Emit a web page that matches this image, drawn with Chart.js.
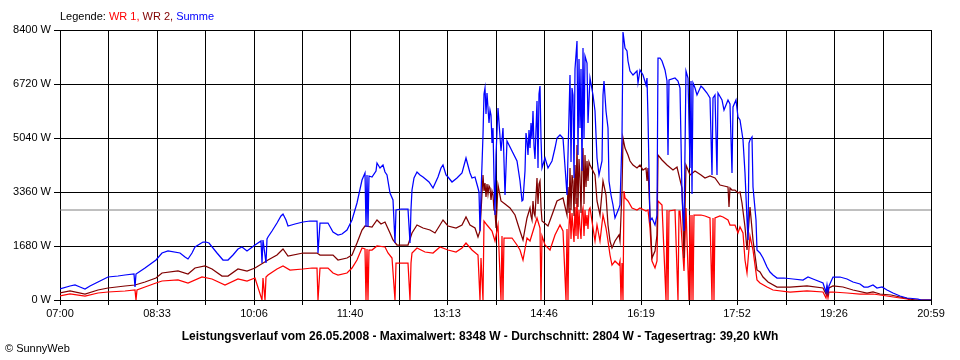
<!DOCTYPE html>
<html lang="de">
<head>
    <meta charset="UTF-8">
    <title>Leistungsverlauf 26.05.2008</title>
    <script src="https://cdn.jsdelivr.net/npm/chart.js"></script>
    <style>
        body { margin: 0; background: #fff; }
        canvas { display: block; }
    </style>
</head>
<body>
    <canvas id="chart" width="960" height="360"></canvas>

    <script>
        // Tick labels and axis steps
        const xTickLabels = ['07:00', '08:33', '10:06', '11:40', '13:13', '14:46', '16:19', '17:52', '19:26', '20:59'];
        const yTicks = [0, 1680, 3360, 5040, 6720, 8400];
        const averageW = 2804;
        const legendLabels = ['WR 1', 'WR 2', 'Summe'];
        const titleText = 'Leistungsverlauf vom 26.05.2008 - Maximalwert: 8348 W - Durchschnitt: 2804 W - Tagesertrag: 39,20 kWh';

        // Summe (blau): [Uhrzeit, Watt]
        const sumPoints = [
            ['07:00',340],['07:10',430],['07:14',467],['07:19',420],['07:24',333],['07:29',430],['07:37',570],['07:46',705],['07:56',747],['08:03',790],
            ['08:11',809],['08:12',415],['08:13',809],['08:22',985],['08:32',1244],['08:38',1472],['08:44',1514],['08:56',1472],['09:00',1350],['09:03',1275],
            ['09:07',1450],['09:10',1659],['09:18',1815],['09:21',1790],['09:24',1763],['09:31',1452],['09:37',1244],['09:42',1244],['09:47',1400],['09:51',1576],
            ['09:55',1638],['10:00',1514],['10:08',1711],['10:14',1850],['10:15',1161],['10:16',1870],['10:18',1161],['10:19',1900],['10:20',1970],['10:24',2150],
            ['10:29',2385],['10:33',2600],['10:35',2665],['10:38',2500],['10:40',2312],['10:46',2354],['10:54',2416],['11:01',2458],['11:08',2458],['11:09',1452],
            ['11:10',2406],['11:18',2406],['11:23',2125],['11:28',2022],['11:32',2050],['11:36',2178],['11:41',2489],['11:46',3008],['11:51',3733],['11:54',3941],
            ['11:55',2281],['11:56',3900],['11:57',2281],['11:58',3850],['12:01',3837],['12:04',4000],['12:05',4252],['12:08',4097],['12:11',4200],['12:13',3992],
            ['12:15',3889],['12:18',3319],['12:21',3111],['12:23',1763],['12:24',2800],['12:28',2831],['12:35',2831],['12:37',1763],['12:38',2831],['12:39',3422],
            ['12:41',3800],['12:44',3992],['12:47',3900],['12:50',3837],['12:55',3681],['12:59',3473],['13:04',3837],['13:07',4100],['13:09',4200],['13:12',3900],
            ['13:14',3837],['13:18',3681],['13:22',3785],['13:27',3941],['13:31',4408],['13:35',3941],['13:37',3795],['13:40',3837],['13:43',3484],['13:44',3370],
            ['13:45',2137],['13:46',3300],['13:47',5143],['13:48',6400],['13:49',6595],['13:50',5800],['13:51',6440],['13:52',5973],['13:53',5500],['13:54',5900],
            ['13:55',5765],['13:56',4900],['13:57',5351],['13:58',3795],['13:59',2654],
            ['14:00',4500],['14:02',5973],['14:05',4626],['14:07',5351],['14:09',3277],['14:11',4936],['14:15',4626],['14:20',4315],['14:23',3692],['14:25',3070],
            ['14:26',3100],['14:28',4000],['14:29',5200],['14:30',4936],['14:31',4500],['14:32',5300],['14:33',4729],['14:34',5500],['14:35',5000],['14:36',5870],
            ['14:37',4800],['14:38',4400],['14:39',6181],['14:40',4110],['14:41',6400],['14:42',6647],['14:43',5000],
            ['14:44',4107],['14:47',4418],['14:50',4107],['14:54',4315],['14:57',4729],['14:59',5040],['15:02',5143],['15:05',5040],['15:08',3277],['15:09',4500],
            ['15:11',7010],['15:12',4300],['15:13',6600],['15:14',6388],['15:15',3800],['15:16',7200],['15:18',8048],['15:19',4500],['15:20',7500],['15:21',5351],
            ['15:22',7200],['15:23',4000],['15:24',7840],['15:25',5000],['15:26',7600],['15:28',7373],['15:29',5500],['15:31',6907],['15:33',6388],['15:35',5870],
            ['15:37',4418],['15:39',3899],['15:42',4315],['15:43',6388],['15:44',6800],['15:46',5870],['15:48',5351],['15:49',3692],['15:51',3277],['15:53',2966],
            ['15:55',2551],['15:58',2862],['15:59',2966],['16:01',5040],['16:02',8348],['16:04',7840],['16:06',7740],['16:07',7424],['16:09',7113],['16:12',7010],
            ['16:16',7113],['16:17',6751],['16:19',7165],['16:22',7010],['16:24',6699],['16:25',6907],['16:26',5662],['16:28',2447],['16:30',2551],['16:33',2344],
            ['16:35',2654],['16:36',7529],['16:38',7529],['16:40',7424],['16:43',7165],['16:45',6803],['16:46',4522],['16:47',6855],['16:52',6907],['16:55',6803],
            ['16:57',6595],['16:59',3277],['17:01',2137],['17:03',7113],['17:05',6907],['17:07',4107],['17:08',6800],['17:09',3300],['17:10',6751],['17:12',6595],
            ['17:14',6388],['17:17',6647],['17:19',6595],['17:23',6440],['17:26',6284],['17:28',3899],['17:29',6300],['17:31',6388],['17:33',3899],['17:34',6440],
            ['17:38',6232],['17:40',5921],['17:43',6222],['17:45',6100],['17:47',3941],['17:48',6015],['17:51',6222],['17:53',5703],['17:55',5600],['17:57',5185],
            ['17:58',4978],['18:00',3941],['18:02',2489],['18:03',1867],['18:04',4900],['18:05',4978],['18:07',5080],['18:08',3526],['18:10',2489],['18:11',1556],
            ['18:14',1452],['18:17',1296],['18:21',1037],['18:24',881],['18:27',780],['18:31',674],['18:37',674],['18:46',643],['18:56',622],['19:01',726],
            ['19:05',643],['19:15',519],['19:18',259],['19:19',480],['19:20',259],['19:21',450],['19:25',726],['19:31',705],['19:38',643],['19:44',570],
            ['19:51',500],['19:54',415],['19:58',415],['20:03',467],['20:07',363],['20:12',415],['20:17',311],['20:22',228],['20:29',124],['20:36',52],
            ['20:46',21],['20:49',0],['20:59',0]
        ];

        // WR 2 (dunkelrot)
        const wr2Points = [
            ['07:00',207],['07:10',280],['07:24',187],['07:37',311],['07:46',384],['08:03',430],['08:12',467],['08:22',560],['08:32',674],['08:38',830],
            ['08:54',902],['09:03',799],['09:10',985],['09:20',1058],['09:26',964],['09:36',747],['09:42',747],['09:51',954],['10:00',902],['10:08',985],
            ['10:20',1244],['10:29',1400],['10:35',1576],['10:40',1369],['10:54',1452],['11:08',1452],['11:10',1400],['11:23',1400],['11:28',1244],['11:36',1296],
            ['11:41',1400],['11:46',1763],['11:51',2178],['11:54',2302],['12:01',2260],['12:05',2489],['12:09',2350],['12:13',2437],['12:18',2074],['12:21',1867],
            ['12:25',1711],['12:35',1711],['12:39',2074],['12:44',2333],['12:50',2229],['12:56',2178],['13:01',2074],['13:06',2333],['13:09',2489],['13:14',2302],
            ['13:21',2229],['13:27',2333],['13:31',2593],['13:35',2333],['13:40',2240],['13:43',1970],['13:45',2137],['13:47',3899],['13:48',3400],['13:49',3640],
            ['13:50',3200],['13:51',3600],['13:52',3300],['13:53',3550],['13:54',3484],['13:55',3100],['13:56',3400],['13:57',3277],['13:58',2800],['13:59',2759],
            ['14:00',2240],['14:02',3588],['14:05',3070],['14:09',3000],['14:13',2862],['14:18',2654],['14:23',2137],['14:26',1877],
            ['14:30',2551],['14:33',2862],['14:34',2600],['14:35',2500],['14:36',3070],['14:37',2700],['14:38',2600],['14:39',3795],['14:40',3000],['14:41',3600],
            ['14:42',3700],['14:43',2900],['14:44',2447],['14:50',2292],
            ['14:54',2654],['14:59',3070],['15:05',3173],['15:08',2654],['15:09',3500],['15:10',2700],['15:11',4107],['15:12',2800],['15:13',3900],['15:14',3700],
            ['15:15',2600],['15:16',4200],['15:17',3000],['15:18',4832],['15:19',2900],['15:20',4400],['15:21',3795],['15:22',2700],['15:23',4300],['15:24',4729],
            ['15:25',3000],['15:26',4500],['15:27',3500],['15:28',4315],['15:29',3700],['15:30',4300],['15:31',4200],
            ['15:35',3899],['15:37',3070],['15:40',2654],['15:43',3692],
            ['15:46',3277],['15:48',2344],['15:50',1826],['15:52',1618],['15:55',1826],['15:58',2033],['15:59',1826],['16:01',3381],['16:02',5040],['16:04',4729],
            ['16:07',4522],['16:09',4315],['16:12',4200],['16:16',4107],['16:19',4200],['16:22',4055],['16:24',4107],['16:25',3692],['16:26',4107],['16:28',2654],
            ['16:30',1307],['16:33',1514],['16:35',2033],['16:36',4522],['16:40',4366],['16:45',4200],['16:50',4055],['16:54',4150],['16:59',3484],['17:01',1307],
            ['17:03',4200],['17:07',3899],['17:12',4000],['17:17',3899],['17:21',3795],['17:26',3850],['17:31',3795],['17:36',3588],['17:40',3550],['17:43',3500],
            ['17:44',2903],['17:45',3480],['17:47',3420],['17:50',3420],['17:53',3319],['17:55',3370],['17:57',3008],['18:00',2281],['18:02',1556],['18:05',2900],
            ['18:08',1867],['18:11',933],['18:14',881],['18:17',726],['18:22',570],['18:31',415],['18:43',400],['19:00',430],['19:15',363],['19:18',200],
            ['19:19',363],['19:20',200],['19:21',363],['19:25',430],['19:34',400],['19:44',311],['19:57',228],['20:03',259],['20:10',187],['20:20',155],
            ['20:29',83],['20:39',21],['20:44',0],['20:59',0]
        ];

        // WR 1 (rot)
        const wr1Points = [
            ['07:00',135],['07:10',176],['07:24',124],['07:37',207],['07:46',259],['08:03',290],['08:12',311],['08:13',0],['08:14',311],['08:22',400],
            ['08:32',519],['08:38',602],['08:54',622],['09:03',519],['09:17',726],['09:26',643],['09:39',467],['09:51',643],['10:00',602],['10:08',674],
            ['10:15',0],['10:16',700],['10:17',0],['10:18',720],['10:20',778],['10:29',950],['10:35',1068],['10:42',933],['10:54',975],['11:03',996],
            ['11:08',985],['11:09',0],['11:10',985],['11:18',985],['11:23',830],['11:28',778],['11:36',830],['11:41',985],['11:46',1244],['11:51',1607],
            ['11:54',1600],['11:55',0],['11:56',1600],['11:57',0],['11:58',1560],['12:01',1556],['12:05',1680],['12:13',1638],['12:16',1452],['12:20',1296],
            ['12:23',0],['12:24',1141],['12:35',1141],['12:37',0],['12:38',1141],['12:39',1452],['12:44',1607],['12:52',1504],['12:59',1452],['13:06',1659],
            ['13:14',1556],['13:21',1504],['13:27',1607],['13:31',1763],['13:37',1556],['13:43',1400],['13:45',0],['13:46',1307],['13:47',0],['13:48',2447],
            ['13:51',2344],['13:56',2137],['13:59',1826],['14:02',2344],['14:05',0],['14:06',2000],['14:07',0],['14:08',1930],['14:15',1930],['14:20',1722],
            ['14:23',1566],['14:26',1255],['14:30',1930],['14:33',1826],['14:39',2551],['14:42',2240],['14:43',0],['14:44',2000],['14:47',1722],['14:52',1566],
            ['14:57',2033],['15:02',2344],['15:05',2137],['15:07',0],['15:08',2200],['15:09',0],['15:10',2300],['15:11',2862],['15:12',1900],['15:13',2700],
            ['15:14',2240],['15:15',1800],['15:16',2900],['15:17',2000],['15:18',3173],['15:19',1900],['15:20',2800],['15:21',2240],['15:22',1900],['15:23',2700],
            ['15:24',2862],['15:25',2000],['15:26',2800],['15:27',2300],['15:28',2654],['15:29',2200],['15:30',2800],['15:31',2862],['15:35',1826],['15:37',2344],
            ['15:40',1826],['15:43',2654],['15:46',2240],['15:48',1826],['15:50',1411],['15:52',1099],['15:55',1200],['15:58',1099],['15:59',1200],['16:00',0],
            ['16:01',1150],['16:02',0],['16:03',3381],['16:04',3173],['16:07',3070],['16:11',2862],['16:16',2810],['16:19',2862],['16:24',2759],['16:26',2810],
            ['16:28',2240],['16:30',1200],['16:33',996],['16:35',1200],['16:36',3070],['16:40',2966],['16:44',0],['16:45',2810],['16:46',0],['16:47',2780],
            ['16:52',2810],['16:55',0],['16:56',2780],['16:57',2759],['16:59',1826],['17:01',892],['17:03',2862],['17:06',0],['17:07',2654],['17:08',0],
            ['17:09',2654],['17:10',0],['17:11',2654],['17:17',2654],['17:21',2600],['17:26',2551],['17:28',0],['17:29',2551],['17:30',0],['17:31',2551],
            ['17:36',2600],['17:39',2593],['17:43',2489],['17:45',2333],['17:50',2333],['17:53',2074],['17:55',2281],['17:58',2074],['18:00',1244],['18:02',830],
            ['18:05',2000],['18:08',1556],['18:11',622],['18:14',519],['18:21',415],['18:27',311],['18:43',259],['19:00',290],['19:15',259],['19:18',50],
            ['19:19',259],['19:20',50],['19:21',259],['19:25',259],['19:38',228],['19:51',187],['20:03',187],['20:17',124],['20:29',52],['20:36',21],
            ['20:40',0],['20:59',0]
        ];

        const seriesColors = ['#ff0000', '#800000', '#0000ff'];
        const fontFamily = '"Liberation Sans", Arial, sans-serif';

        // minutes after 07:00
        function toMinutes(t) {
            const parts = t.split(':').map(Number);
            return (parts[0] - 7) * 60 + parts[1];
        }
        function toXY(points) {
            return points.map(p => ({ x: toMinutes(p[0]), y: p[1] }));
        }

        const xMax = toMinutes(xTickLabels[xTickLabels.length - 1]);

        // Legend, title and copyright drawn onto the canvas
        const textPlugin = {
            id: 'sunnyText',
            afterDraw(chart) {
                const ctx = chart.ctx;
                ctx.save();
                ctx.font = '11px ' + fontFamily;
                ctx.textBaseline = 'middle';
                ctx.textAlign = 'left';
                let x = 60;
                const parts = [['Legende: ', '#000000']];
                legendLabels.forEach((l, i) => {
                    parts.push([l + (i < legendLabels.length - 1 ? ', ' : ''), seriesColors[i]]);
                });
                parts.forEach(p => {
                    ctx.fillStyle = p[1];
                    ctx.fillText(p[0], x, 17);
                    x += ctx.measureText(p[0]).width;
                });

                ctx.fillStyle = '#000000';
                ctx.font = 'bold 12px ' + fontFamily;
                ctx.textAlign = 'center';
                ctx.fillText(titleText, 480, 337);

                ctx.font = '11px ' + fontFamily;
                ctx.textAlign = 'left';
                ctx.fillText('\u00A9 SunnyWeb', 5, 349);
                ctx.restore();
            }
        };

        new Chart(document.getElementById('chart').getContext('2d'), {
            type: 'line',
            data: {
                datasets: [
                    { label: 'Summe', data: toXY(sumPoints), borderColor: seriesColors[2], order: 1 },
                    { label: 'WR 2', data: toXY(wr2Points), borderColor: seriesColors[1], order: 2 },
                    { label: 'WR 1', data: toXY(wr1Points), borderColor: seriesColors[0], order: 3 },
                    { label: 'Durchschnitt', data: [{ x: 0, y: averageW }, { x: xMax, y: averageW }], borderColor: '#808080', borderWidth: 1, order: 4 }
                ]
            },
            options: {
                responsive: false,
                animation: false,
                devicePixelRatio: 1,
                layout: { padding: { left: 0, right: 29, top: 30, bottom: 30 } },
                plugins: {
                    legend: { display: false },
                    tooltip: { enabled: false }
                },
                elements: {
                    point: { radius: 0 },
                    line: { borderWidth: 1.25, tension: 0, fill: false }
                },
                scales: {
                    x: {
                        type: 'linear',
                        min: 0,
                        max: xMax,
                        alignToPixels: true,
                        afterBuildTicks: scale => {
                            const step = xMax / ((xTickLabels.length - 1) * 2);
                            scale.ticks = [];
                            for (let i = 0; i < (xTickLabels.length - 1) * 2 + 1; i++) {
                                scale.ticks.push({ value: i * step });
                            }
                        },
                        afterFit: scale => { scale.height = 30; },
                        ticks: {
                            autoSkip: false,
                            maxRotation: 0,
                            color: '#000000',
                            padding: 2,
                            font: { family: fontFamily, size: 11 },
                            callback: (v, i) => (i % 2 === 0 ? xTickLabels[i / 2] : '')
                        },
                        grid: { color: '#000000', tickLength: 5 },
                        border: { color: '#000000' }
                    },
                    y: {
                        min: 0,
                        max: yTicks[yTicks.length - 1],
                        alignToPixels: true,
                        afterBuildTicks: scale => {
                            scale.ticks = yTicks.map(v => ({ value: v }));
                        },
                        afterFit: scale => { scale.width = 60; },
                        ticks: {
                            color: '#000000',
                            padding: 3,
                            font: { family: fontFamily, size: 11 },
                            callback: v => v + ' W'
                        },
                        grid: { color: '#000000', tickLength: 6 },
                        border: { color: '#000000' }
                    }
                }
            },
            plugins: [textPlugin]
        });
    </script>
</body>
</html>
